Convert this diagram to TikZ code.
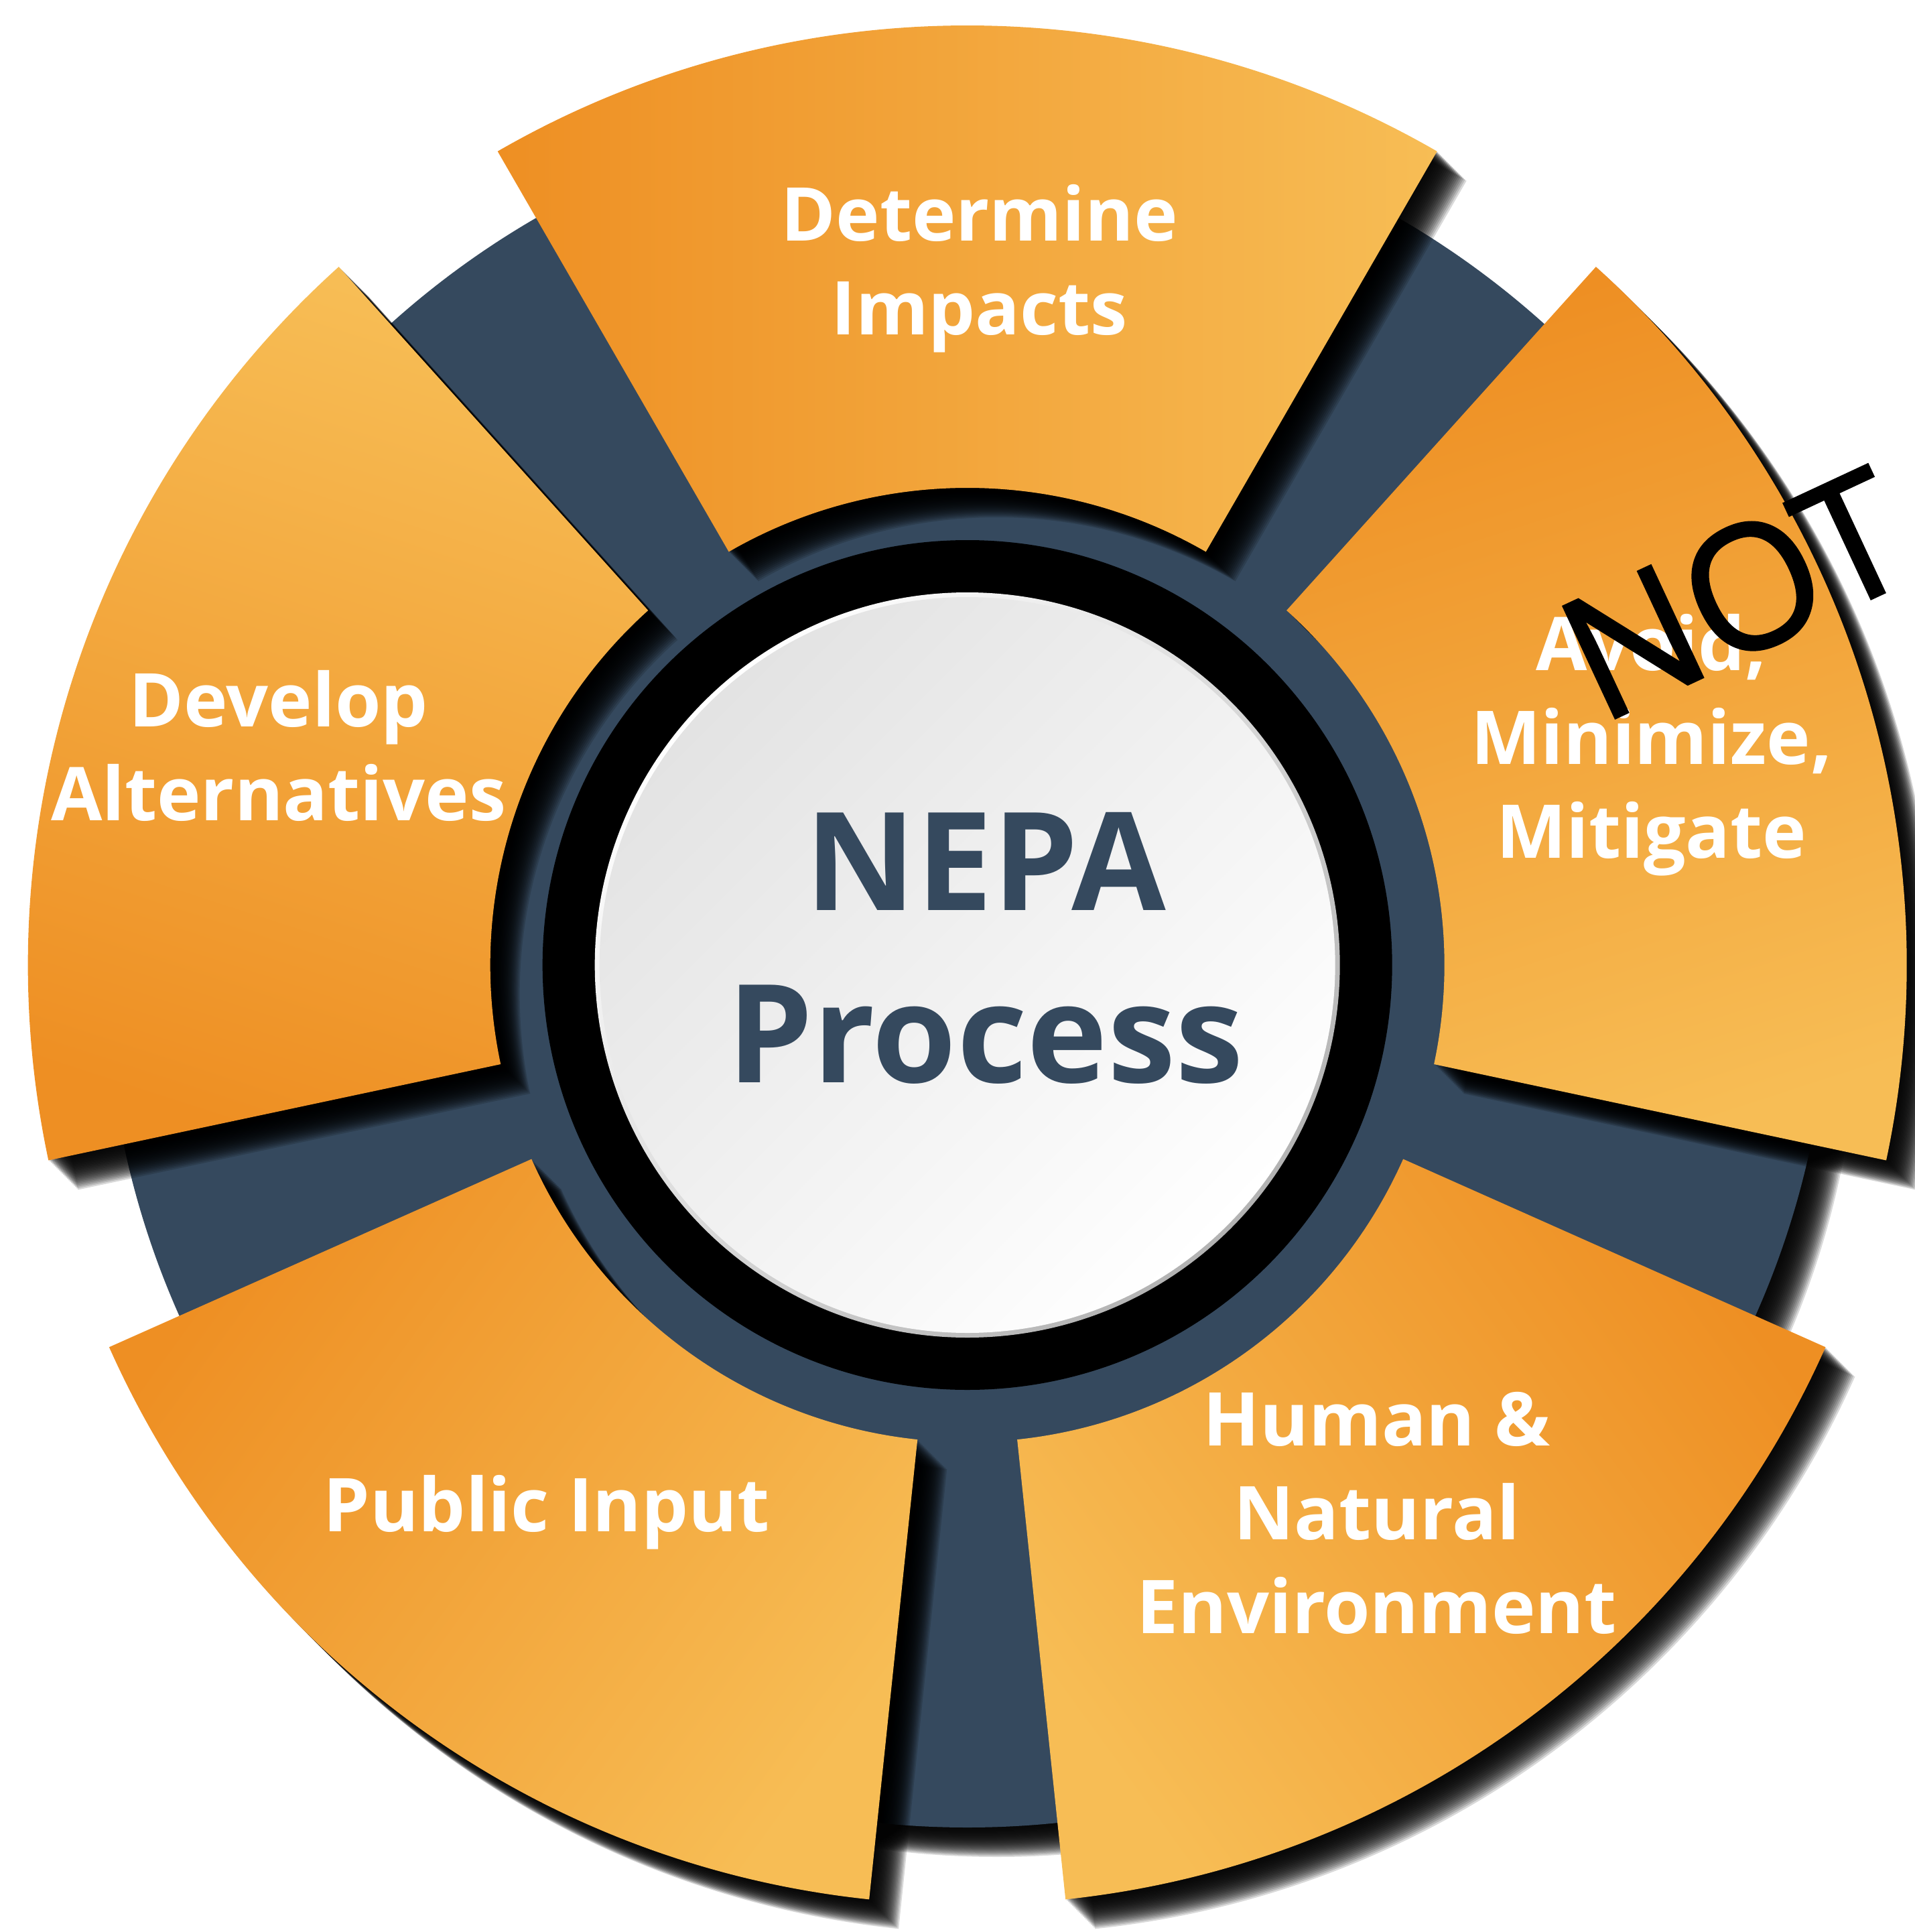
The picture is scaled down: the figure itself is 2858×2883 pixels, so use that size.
\documentclass[tikz,border=0pt]{standalone}
\usepackage{fontspec}
\setmainfont{Open Sans}
\newfontfamily\notfont[FakeBold=1.6]{Open Sans}

\definecolor{navy}{RGB}{53,73,94}
\definecolor{orDark}{RGB}{238,143,35}
\definecolor{orLight}{RGB}{247,189,85}

\begin{document}
\begin{tikzpicture}[x=0.01cm, y=0.01cm,
	seglabel/.style={text=white, align=center, font=\fontsize{31.5}{39.8}\selectfont\bfseries},
	shadowcopy/.style={fill=black, opacity=0.15}]
	\useasboundingbox (-1443.7,-1443) rectangle (1414.3,1440);

	% Navy disk with its shadow
	\foreach \d in {2,4,...,44}
		\fill[shadowcopy, shift={(\d,-\d)}] (0,0) circle [radius=1287];
	\fill[navy] (0,0) circle [radius=1287];

	% Shadows of the five segments
	\foreach \a/\b in {60/120, -12/48, 276/336, 204/264, 132/192}
		\foreach \d in {2,4,...,44}
			\fill[shadowcopy, shift={(\d,-\d)}] (\a:712) arc [start angle=\a, end angle=\b, radius=712]
				-- (\b:1402) arc [start angle=\b, end angle=\a, radius=1402] -- cycle;

	% Segments {impacts, mitigate, environment, input, alternatives}
	\foreach \a/\b/\s in {60/120/-90, -12/48/-162, 276/336/126, 204/264/-126, 132/192/-18}
		\shade[top color=orLight, bottom color=orDark, shading angle=\s] (\a:712) arc [start angle=\a, end angle=\b, radius=712]
			-- (\b:1402) arc [start angle=\b, end angle=\a, radius=1402] -- cycle;

	% Centre: black ring and white disk
	\fill[black] (0,0) circle [radius=634];
	\shade[top color=white, bottom color=black!30, shading angle=45] (0,0) circle [radius=556];
	\shade[top color=black!11, bottom color=white, shading angle=45] (0,0) circle [radius=549];

	% Labels
	\node [seglabel] (impacts)      at (18,1039)   {Determine\\Impacts};
	\node [seglabel] (alternatives) at (-1028,327) {Develop\\Alternatives};
	\node [seglabel] (mitigate)     at (1021,328)  {Avoid,\\Minimize,\\Mitigate};
	\node [seglabel, anchor=base] (input) at (-628,-845) {Public Input};
	\node [seglabel] (environment)  at (611,-818)  {Human \&\\Natural\\Environment};
	\node [text=navy, align=center, font=\fontsize{58}{73}\selectfont\bfseries] (nepa) at (27,25) {NEPA\\Process};

	% Handwritten-style NOT
	\node [rotate=25, font=\notfont\fontsize{73}{80}\selectfont] (negation) at (1145,553) {NOT};
\end{tikzpicture}
\end{document}
